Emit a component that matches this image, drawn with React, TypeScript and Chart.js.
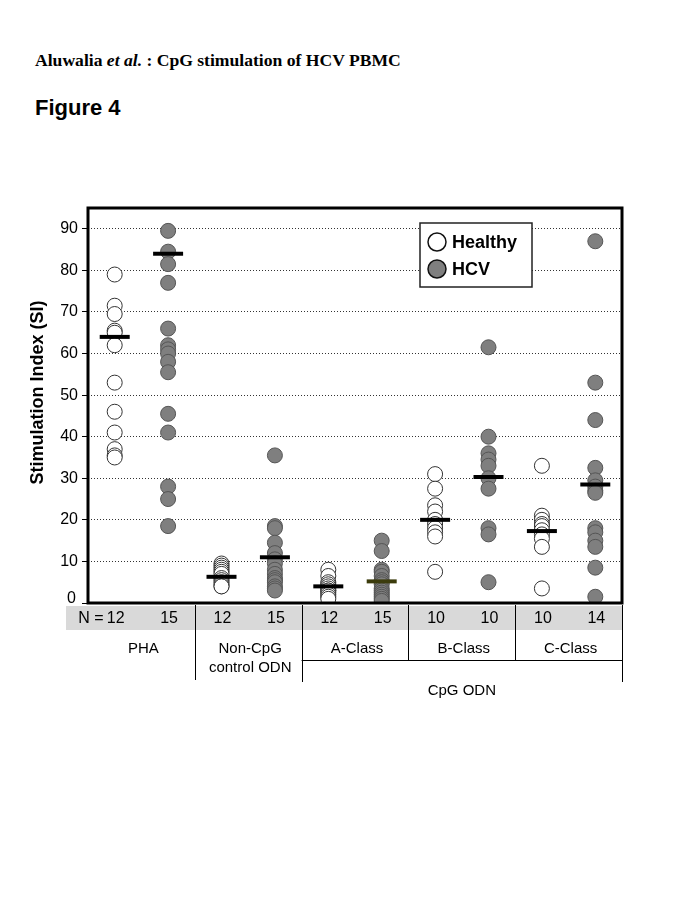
import React, { useEffect, useRef } from 'react';
import { Chart, registerables } from 'chart.js';
Chart.register(...registerables);

// ---- data ----
const columns = ['PHA-Healthy', 'PHA-HCV', 'NonCpG-Healthy', 'NonCpG-HCV', 'A-Healthy', 'A-HCV', 'B-Healthy', 'B-HCV', 'C-Healthy', 'C-HCV'];
const nCounts = ['12', '15', '12', '15', '12', '15', '10', '10', '10', '14'];
const groupLabels = [['PHA'], ['Non-CpG', 'control ODN'], ['A-Class'], ['B-Class'], ['C-Class']];
const superGroupLabel = 'CpG ODN';
const yTicks = [0, 10, 20, 30, 40, 50, 60, 70, 80, 90];
const yTitle = 'Stimulation Index (SI)';

const healthyPHA = [79, 71.5, 69.5, 65.5, 65, 62, 53, 46, 41, 37, 35.5, 35];
const hcvPHA = [89.5, 84.5, 81.5, 77, 66, 62, 61, 60, 58, 55.5, 45.5, 41, 28, 25, 18.5];
const healthyNonCpG = [9.5, 9, 8.5, 8, 7.5, 7, 6, 5.5, 5, 4.5, 4, 4];
const hcvNonCpG = [35.5, 18.5, 18, 14.5, 12, 10.5, 9.5, 8, 7, 6, 5.5, 5, 4, 3.5, 3];
const healthyA = [8, 6.5, 5, 4.5, 4, 3.5, 3, 3, 2.5, 2, 1.5, 1];
const hcvA = [15, 12.5, 8, 7.5, 6.5, 5.5, 5, 4.5, 3.5, 3, 2.5, 2, 1.5, 1, 0.5];
const healthyB = [31, 27.5, 23.5, 22, 20, 19, 18, 17, 16, 7.5];
const hcvB = [61.5, 40, 36, 34.5, 33, 30, 27.5, 18, 16.5, 5];
const healthyC = [33, 21, 20, 19, 18.5, 17.5, 16.5, 15.5, 13.5, 3.5];
const hcvC = [87, 53, 44, 32.5, 29.5, 28, 27, 26.5, 18, 17, 15, 13.5, 8.5, 1.5];
const medians = [64, 84, 6.3, 11, 4, 5.2, 20, 30.3, 17.3, 28.5];
const medianColors = ['#000', '#000', '#000', '#000', '#000', '#3b3b0c', '#000', '#000', '#000', '#000'];

const healthySets = [healthyPHA, healthyNonCpG, healthyA, healthyB, healthyC];
const hcvSets = [hcvPHA, hcvNonCpG, hcvA, hcvB, hcvC];

const FONT = 'Arial, "Liberation Sans", sans-serif';

const overlayPlugin = {
  id: 'overlay',
  afterDatasetsDraw(chart: any) {
    const { ctx, chartArea: a } = chart;
    ctx.save();
    ctx.strokeStyle = '#000';
    ctx.lineWidth = 3;
    ctx.strokeRect(a.left, a.top, a.right - a.left, a.bottom - a.top);

    // legend
    const lx = a.left + 332, ly = a.top + 15, lw = 112, lh = 64;
    ctx.fillStyle = '#fff';
    ctx.fillRect(lx, ly, lw, lh);
    ctx.lineWidth = 1.5;
    ctx.strokeStyle = '#222';
    ctx.strokeRect(lx, ly, lw, lh);
    const items = [
      { t: 'Healthy', fill: '#ffffff' },
      { t: 'HCV', fill: '#7f7f7f' },
    ];
    items.forEach((it, i) => {
      const cy = ly + 19 + i * 27;
      ctx.beginPath();
      ctx.arc(lx + 17, cy, 9, 0, Math.PI * 2);
      ctx.fillStyle = it.fill;
      ctx.fill();
      ctx.lineWidth = 1.5;
      ctx.strokeStyle = '#111';
      ctx.stroke();
      ctx.fillStyle = '#000';
      ctx.font = `bold 18px ${FONT}`;
      ctx.textBaseline = 'middle';
      ctx.textAlign = 'left';
      ctx.fillText(it.t, lx + 32, cy + 1);
    });
    ctx.restore();
  },
  afterDraw(chart: any) {
    const { ctx, chartArea: a, scales } = chart;
    const xs = scales.x;
    const px = (i: number) => xs.getPixelForValue(i);
    const b = a.bottom;
    ctx.save();

    // y axis title
    ctx.save();
    ctx.translate(38, (a.top + a.bottom) / 2 - 13);
    ctx.rotate(-Math.PI / 2);
    ctx.fillStyle = '#000';
    ctx.font = `bold 18px ${FONT}`;
    ctx.textAlign = 'center';
    ctx.textBaseline = 'middle';
    ctx.fillText(yTitle, 0, 0);
    ctx.restore();

    // zero label (sits slightly above the band)
    ctx.fillStyle = '#000';
    ctx.font = `16px ${FONT}`;
    ctx.textAlign = 'right';
    ctx.textBaseline = 'middle';
    ctx.fillText(String(yTicks[0]), a.left - 12, b - 4);

    // grey band
    ctx.fillStyle = '#d9d9d9';
    ctx.fillRect(a.left - 22, b + 3, a.right - a.left + 22, 24);
    ctx.fillStyle = '#000';
    ctx.font = `16px ${FONT}`;
    ctx.textBaseline = 'middle';
    ctx.textAlign = 'center';
    nCounts.forEach((n, i) => {
      ctx.fillText(n, px(i) + 1, b + 16);
    });
    ctx.textAlign = 'right';
    ctx.fillText('N =', px(0) - 11, b + 16);

    // dividers
    const bounds: number[] = [];
    for (let g = 0; g < 4; g++) bounds.push((px(2 * g + 1) + px(2 * g + 2)) / 2);
    ctx.strokeStyle = '#000';
    ctx.lineWidth = 1;
    const ends = [b + 77, b + 79, b + 57, b + 57];
    bounds.forEach((x, i) => {
      ctx.beginPath();
      ctx.moveTo(Math.round(x) + 0.5, b + 2);
      ctx.lineTo(Math.round(x) + 0.5, ends[i]);
      ctx.stroke();
    });
    ctx.beginPath();
    ctx.moveTo(Math.round(a.right) + 0.5, b + 2);
    ctx.lineTo(Math.round(a.right) + 0.5, b + 79);
    ctx.stroke();
    ctx.beginPath();
    ctx.moveTo(bounds[1], b + 57.5);
    ctx.lineTo(a.right, b + 57.5);
    ctx.stroke();

    // group labels
    ctx.textAlign = 'center';
    ctx.font = `15px ${FONT}`;
    groupLabels.forEach((lines, g) => {
      const cx = (px(2 * g) + px(2 * g + 1)) / 2 + 2;
      lines.forEach((t, k) => ctx.fillText(t, cx, b + 46 + k * 19));
    });
    ctx.fillText(superGroupLabel, (bounds[1] + a.right) / 2, b + 88);
    ctx.restore();
  },
};

export default function App() {
  const ref = useRef<HTMLCanvasElement>(null);
  useEffect(() => {
    if (!ref.current) return;
    const healthyData: any[] = [];
    const hcvData: any[] = [];
    healthySets.forEach((arr, g) => arr.forEach((v) => healthyData.push({ x: columns[2 * g], y: v })));
    hcvSets.forEach((arr, g) => arr.forEach((v) => hcvData.push({ x: columns[2 * g + 1], y: v })));
    const medianData = medians.map((v, i) => ({ x: columns[i], y: v }));

    const chart = new Chart(ref.current, {
      type: 'scatter',
      data: {
        labels: columns,
        datasets: [
          {
            label: 'median',
            data: medianData,
            pointStyle: 'line',
            pointRadius: 15,
            pointBorderWidth: 4,
            pointBorderColor: medianColors,
            borderColor: medianColors,
            order: 0,
            clip: false,
          } as any,
          {
            label: 'HCV',
            data: hcvData,
            pointRadius: 7.5,
            pointBackgroundColor: '#7f7f7f',
            pointBorderColor: '#555',
            pointBorderWidth: 1,
            order: 1,
          },
          {
            label: 'Healthy',
            data: healthyData,
            pointRadius: 7.5,
            pointBackgroundColor: '#ffffff',
            pointBorderColor: '#333',
            pointBorderWidth: 1,
            order: 2,
          },
        ],
      },
      options: {
        animation: false,
        responsive: false,
        events: [],
        layout: { padding: { left: 24, right: 63, top: 208, bottom: 310 } },
        plugins: { legend: { display: false }, tooltip: { enabled: false } },
        scales: {
          x: {
            type: 'category',
            labels: columns,
            offset: true,
            display: false,
          },
          y: {
            min: 0,
            max: 95,
            afterFit: (s: any) => { s.width = 64; },
            afterBuildTicks: (s: any) => { s.ticks = yTicks.map((v) => ({ value: v })); },
            ticks: {
              color: '#000',
              font: { family: FONT, size: 16 },
              padding: 4,
              callback: (v: any) => (v === 0 ? '' : String(v)),
            },
            border: { display: false, dash: [1, 2] },
            grid: {
              color: (c: any) => (c.tick && c.tick.value === 0 ? 'rgba(0,0,0,0)' : '#333'),
              tickColor: '#000',
              tickLength: 6,
              lineWidth: 1,
            },
            title: { display: false },
          },
        },
      },
      plugins: [overlayPlugin],
    });
    return () => chart.destroy();
  }, []);

  return (
    <div style={{ position: 'absolute', left: 0, top: 0, width: 685, height: 913, background: '#fff' }}>
      <div
        style={{
          position: 'absolute', left: 35, top: 50, fontFamily: '"Liberation Serif", "Times New Roman", serif',
          fontWeight: 'bold', fontSize: 17.6, color: '#000', whiteSpace: 'nowrap',
        }}
      >
        Aluwalia <i>et al.</i> : CpG stimulation of HCV PBMC
      </div>
      <div
        style={{
          position: 'absolute', left: 35, top: 95, fontFamily: FONT,
          fontWeight: 'bold', fontSize: 22, color: '#000', whiteSpace: 'nowrap',
        }}
      >
        Figure 4
      </div>
      <canvas ref={ref} width={685} height={913} style={{ position: 'absolute', left: 0, top: 0 }} />
    </div>
  );
}
